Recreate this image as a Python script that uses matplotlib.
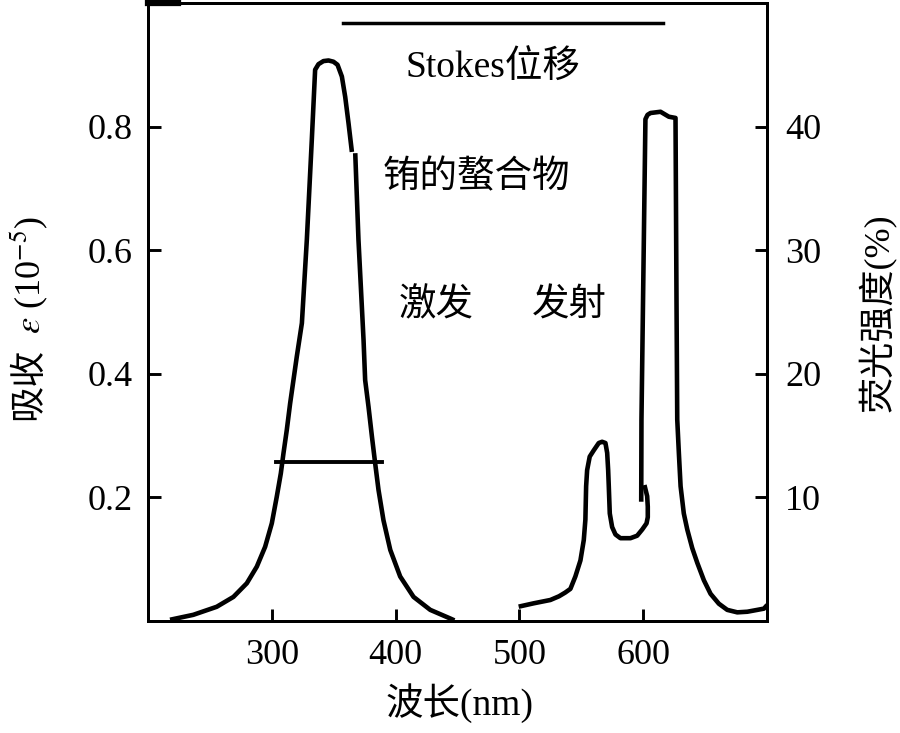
import matplotlib
matplotlib.use('Agg')
import matplotlib.pyplot as plt

plt.rcParams['font.family'] = ['Liberation Serif', 'Noto Sans CJK SC']
plt.rcParams['mathtext.fontset'] = 'stix'

# excitation (absorption) curve, left axis, two strokes with a small break
exc1_wl = [217.8, 236.6, 255.5, 269.0, 279.8, 287.9, 294.6, 300.0, 304.0, 307.3,
           309.4, 312.1, 314.8, 317.5, 320.2, 324.3, 328.3, 332.3, 335.0, 337.7,
           341.7, 345.8, 349.8, 353.1, 356.6, 359.3, 362.0, 364.7]
exc1_val = [0.002, 0.010, 0.023, 0.039, 0.061, 0.088, 0.120, 0.158, 0.201, 0.239,
            0.271, 0.309, 0.352, 0.390, 0.428, 0.482, 0.617, 0.778, 0.892, 0.901,
            0.906, 0.907, 0.905, 0.900, 0.881, 0.848, 0.805, 0.759]
exc2_wl = [367.4, 370.0, 374.1, 375.4, 378.1, 380.9, 383.5, 386.2, 390.2, 395.7,
           403.7, 414.5, 428.0, 444.2, 447.5]
exc2_val = [0.757, 0.617, 0.455, 0.390, 0.347, 0.298, 0.255, 0.212, 0.163, 0.115,
            0.072, 0.039, 0.018, 0.004, 0.001]

# emission curve, right axis (%)
em1_wl = [499.4, 511.5, 525.0, 532.0, 537.0, 541.2, 545.2, 549.3, 552.0, 553.3,
          553.9, 554.7, 556.8, 560.0, 564.1, 566.8, 569.5, 570.9, 571.7, 572.2,
          573.0, 574.9, 577.6, 581.6, 589.7, 595.1, 599.2, 602.7, 603.7, 603.7,
          603.2, 601.0]
em1_val = [1.16, 1.43, 1.7, 2.0, 2.3, 2.6, 3.6, 4.9, 6.55, 8.2,
           10.9, 12.2, 13.3, 13.8, 14.4, 14.5, 14.4, 13.6, 12.2, 10.9,
           8.7, 7.6, 7.0, 6.7, 6.7, 6.9, 7.4, 7.9, 8.4, 9.25,
           10.1, 11.0]
em2_wl = [598.4, 598.6, 601.8, 603.5, 605.9, 614.0, 620.7, 626.1, 626.9, 627.5,
          628.8, 630.2, 632.8, 635.6, 639.6, 643.7, 649.0, 654.4, 661.1, 667.9,
          676.0, 684.1, 692.2, 697.5, 700.2]
em2_val = [9.65, 16.3, 40.6, 40.95, 41.1, 41.2, 40.8, 40.7, 25.9, 16.3,
           13.6, 10.9, 8.7, 7.4, 5.9, 4.7, 3.3, 2.2, 1.4, 0.9,
           0.7, 0.75, 0.9, 1.0, 1.3]

# half-width bar and Stokes shift bar
fwhm_wl = [303.5, 388.9]
fwhm_val = 0.257
stokes_wl = [357.7, 615.6]
stokes_val = 0.968

x_ticks = [300, 400, 500, 600]
left_ticks = [0.2, 0.4, 0.6, 0.8]
right_ticks = [10, 20, 30, 40]

fig = plt.figure(figsize=(9, 7.33), dpi=100)
ax = fig.add_axes([148/900, 1 - 621/733, (767 - 148)/900, (621 - 3)/733])
ax2 = ax.twinx()

lw = 3.3
line_kw = dict(color='black', lw=lw, solid_joinstyle='round', solid_capstyle='butt')
ax.plot(exc1_wl, exc1_val, **line_kw)
ax.plot(exc2_wl, exc2_val, **line_kw)
ax.plot(fwhm_wl, [fwhm_val, fwhm_val], color='black', lw=2.8)
ax.plot(stokes_wl, [stokes_val, stokes_val], color='black', lw=2.5)
ax.plot([200, 224], [1.0, 1.0], color='black', lw=4.5, clip_on=False)

ax2.plot(em1_wl, em1_val, **line_kw)
ax2.plot(em2_wl, em2_val, **line_kw)

ax.set_xlim(200, 700)
ax.set_ylim(0, 1.0)
ax2.set_ylim(0, 50)

ax.set_xticks(x_ticks)
ax.set_yticks(left_ticks)
ax.set_yticklabels(['0.2', '0.4', '0.6', '0.8'])
ax2.set_yticks(right_ticks)

for a in (ax, ax2):
    for s in a.spines.values():
        s.set_linewidth(2.1)

ax.tick_params(axis='x', direction='in', length=9, width=2.1, labelsize=26, pad=13)
ax.tick_params(axis='y', direction='in', length=9, width=2.1, labelsize=26, pad=11)
ax2.tick_params(axis='y', direction='in', length=9, width=2.1, labelsize=26, pad=13)

fs = 27
ax.text(479, 0.895, 'Stokes位移', fontsize=fs, ha='center', va='center')
ax.text(465.5, 0.718, '铕的螯合物', fontsize=fs, ha='center', va='center')
ax.text(433, 0.51, '激发', fontsize=fs, ha='center', va='center')
ax.text(540, 0.51, '发射', fontsize=fs, ha='center', va='center')

# left label in two pieces: CJK part and math part
fig.text(30/900, 1 - 384/733, '吸收', rotation=90, fontsize=26, ha='center', va='center')
fig.text(30/900, 1 - 275/733, r'$\varepsilon$ (10$^{-5}$)', rotation=90,
         fontsize=26, ha='center', va='center')
fig.text(878/900, 1 - 313/733, '荧光强度(%)', rotation=90,
         fontsize=26, ha='center', va='center')
fig.text(460/900, 1 - 703/733, '波长(nm)', fontsize=27, ha='center', va='center')

fig.savefig('out.png', dpi=100)
